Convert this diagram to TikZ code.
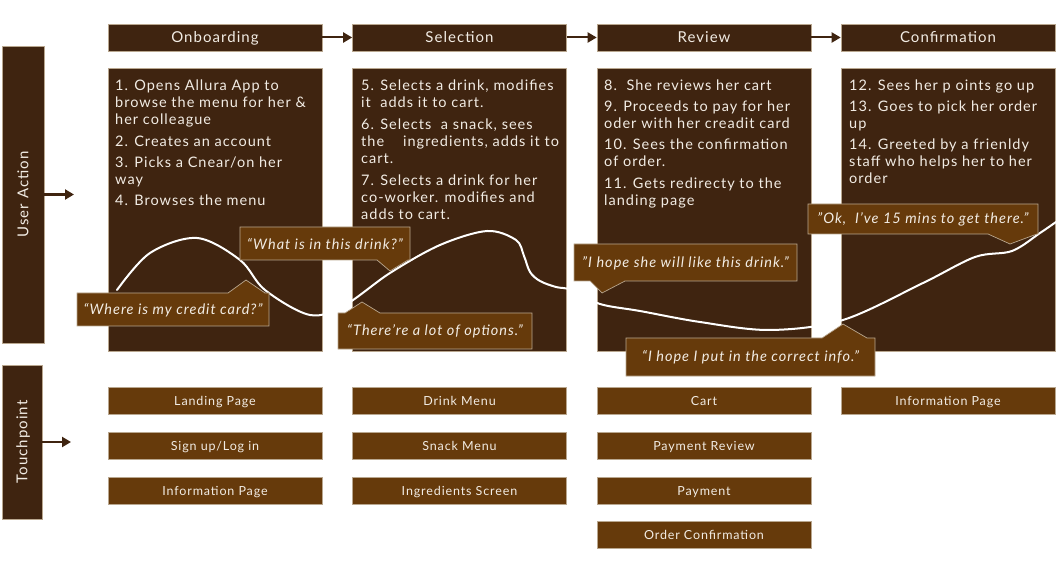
\documentclass[tikz,border=0pt]{standalone}
\usepackage{fontspec}
\setmainfont{Lato}[LetterSpace=7]
\usetikzlibrary{arrows.meta}
\definecolor{dk}{HTML}{3F2410}
\definecolor{md}{HTML}{663A0B}
\definecolor{bd}{HTML}{B9A78F}
\definecolor{tx}{HTML}{F2ECE4}
\begin{document}
\begin{tikzpicture}[x=1pt,y=-1pt,
  hdr/.style={draw=bd,line width=0.6pt,fill=dk,text=tx,minimum width=214pt,minimum height=27pt,inner sep=0pt,text height=10.5pt,text depth=0pt,font=\fontsize{15}{18}\selectfont},
  actbox/.style={draw=bd,line width=0.6pt,fill=dk,minimum width=214pt,minimum height=283pt,inner sep=0pt},
  acttext/.style={anchor=north west,inner sep=0pt,text=tx,align=left,font=\fontsize{14.5}{17}\selectfont},
  tp/.style={draw=bd,line width=0.6pt,fill=md,text=tx,minimum width=214pt,minimum height=27pt,inner sep=0pt,text height=9pt,text depth=0pt,font=\fontsize{12.5}{15}\selectfont},
  sidebar/.style={fill=dk,draw=bd,line width=0.4pt,inner sep=0pt},
  sidetext/.style={rotate=90,text=tx,text height=10.5pt,text depth=0pt,font=\fontsize{15}{18}\selectfont},
  arr/.style={-{Triangle[length=9pt,width=10pt]},line width=2.6pt,draw=dk},
  bub/.style={fill=md,draw=bd,line width=0.7pt},
  bubtext/.style={text=tx,inner sep=0pt,font=\fontsize{14.5}{17}\itshape},
  journey/.style={draw=white,line width=2pt,line cap=round}
]
\useasboundingbox (0,0) rectangle (1063,561);

% side bars
\node[sidebar,minimum width=42pt,minimum height=297pt] (ua) at (23,194.5) {};
\node[sidetext] (ualab) at (ua.center) {User Action};
\node[sidebar,minimum width=40pt,minimum height=154pt] (tpb) at (22,442) {};
\node[sidetext] (tplab) at (tpb.center) {Touchpoint};
\coordinate (uaend) at (74,194.5);
\coordinate (tpend) at (71,442);
\draw[arr] (ua.east) -- (uaend);
\draw[arr] (tpb.east) -- (tpend);

% headers
\node[hdr] (h1) at (215,37.5) {Onboarding};
\node[hdr] (h2) at (459.5,37.5) {Selection};
\node[hdr] (h3) at (704,37.5) {Review};
\node[hdr] (h4) at (948,37.5) {Confirmation};
\draw[arr,line width=2pt] (h1) -- (h2);
\draw[arr,line width=2pt] (h2) -- (h3);
\draw[arr,line width=2pt] (h3) -- (h4);

% action boxes
\node[actbox] (a1) at (215,209.5) {};
\node[actbox] (a2) at (459.5,209.5) {};
\node[actbox] (a3) at (704,209.5) {};
\node[actbox] (a4) at (948,209.5) {};

\node[acttext] (t1) at (115,79.5) {1. Opens Allura App to\\browse the menu for her \&\\her colleague\\[5pt]2. Creates an account\\[4pt]3. Picks a Cnear/on her\\way\\[4pt]4. Browses the menu};
\node[acttext] (t2) at (361,79.5) {5. Selects a drink, modifies\\it\ \ adds it to cart.\\[5pt]6. Selects\ \ a snack, sees\\the\ \ \ \ ingredients, adds it to\\cart.\\[5pt]7. Selects a drink for her\\co-worker. modifies and\\adds to cart.};
\node[acttext] (t3) at (604,79.5) {8.\ \ She reviews her cart\\[4pt]9. Proceeds to pay for her\\oder with her creadit card\\[4pt]10. Sees the confirmation\\of order.\\[5pt]11. Gets redirecty to the\\landing page};
\node[acttext] (t4) at (849,79.5) {12. Sees her p oints go up\\[4pt]13. Goes to pick her order\\up\\[4pt]14. Greeted by a frienldy\\staff who helps her to her\\order};

% journey curve
\draw[journey] plot[smooth,tension=0.55] coordinates {(117,290) (150,253) (197,238) (240,260) (265,290) (310,315) (345,305) (390,273) (440,245) (487,231) (516,240) (524,256) (530,272) (540,281) (556,287) (572,290) (600,304) (640,311) (700,322) (770,330) (843,320) (923,283) (975,257) (1012,251) (1040,233) (1056,222)};

% speech bubbles
\draw[bub] (77,293) -- (228,293) -- (246,280) -- (265,293) -- (269,293) -- (269,326) -- (77,326) -- cycle;
\node[bubtext] (q1) at (173,310) {“Where is my credit card?"};
\draw[bub] (240,227) -- (410,227) -- (410,260) -- (408,260) -- (390,271) -- (377,260) -- (240,260) -- cycle;
\node[bubtext] (q2) at (325,244) {“What is in this drink?"};
\draw[bub] (338,313) -- (345,313) -- (362,302) -- (380,313) -- (532,313) -- (532,349) -- (338,349) -- cycle;
\node[bubtext] (q3) at (435,331.5) {“There're a lot of options."};
\draw[bub] (574,244) -- (797,244) -- (797,281) -- (625,281) -- (602,293) -- (590,281) -- (574,281) -- cycle;
\node[bubtext] (q4) at (685.5,263) {"I hope she will like this drink."};
\draw[bub] (626,338) -- (822,338) -- (843,324) -- (867,338) -- (875,338) -- (875,376) -- (626,376) -- cycle;
\node[bubtext] (q5) at (750.5,357.5) {“I hope I put in the correct info."};
\draw[bub] (808,204) -- (1038,204) -- (1038,234) -- (1037,234) -- (1010,244) -- (988,234) -- (808,234) -- cycle;
\node[bubtext] (q6) at (923,219.5) {"Ok,\ \ I've 15 mins to get there."};

% touchpoints
\node[tp] (p11) at (215,400.5) {Landing Page};
\node[tp] (p12) at (215,445.5) {Sign up/Log in};
\node[tp] (p13) at (215,490.5) {Information Page};
\node[tp] (p21) at (459.5,400.5) {Drink Menu};
\node[tp] (p22) at (459.5,445.5) {Snack Menu};
\node[tp] (p23) at (459.5,490.5) {Ingredients Screen};
\node[tp] (p31) at (704,400.5) {Cart};
\node[tp] (p32) at (704,445.5) {Payment Review};
\node[tp] (p33) at (704,490.5) {Payment};
\node[tp] (p34) at (704,535) {Order Confirmation};
\node[tp] (p41) at (948,400.5) {Information Page};
\end{tikzpicture}
\end{document}
